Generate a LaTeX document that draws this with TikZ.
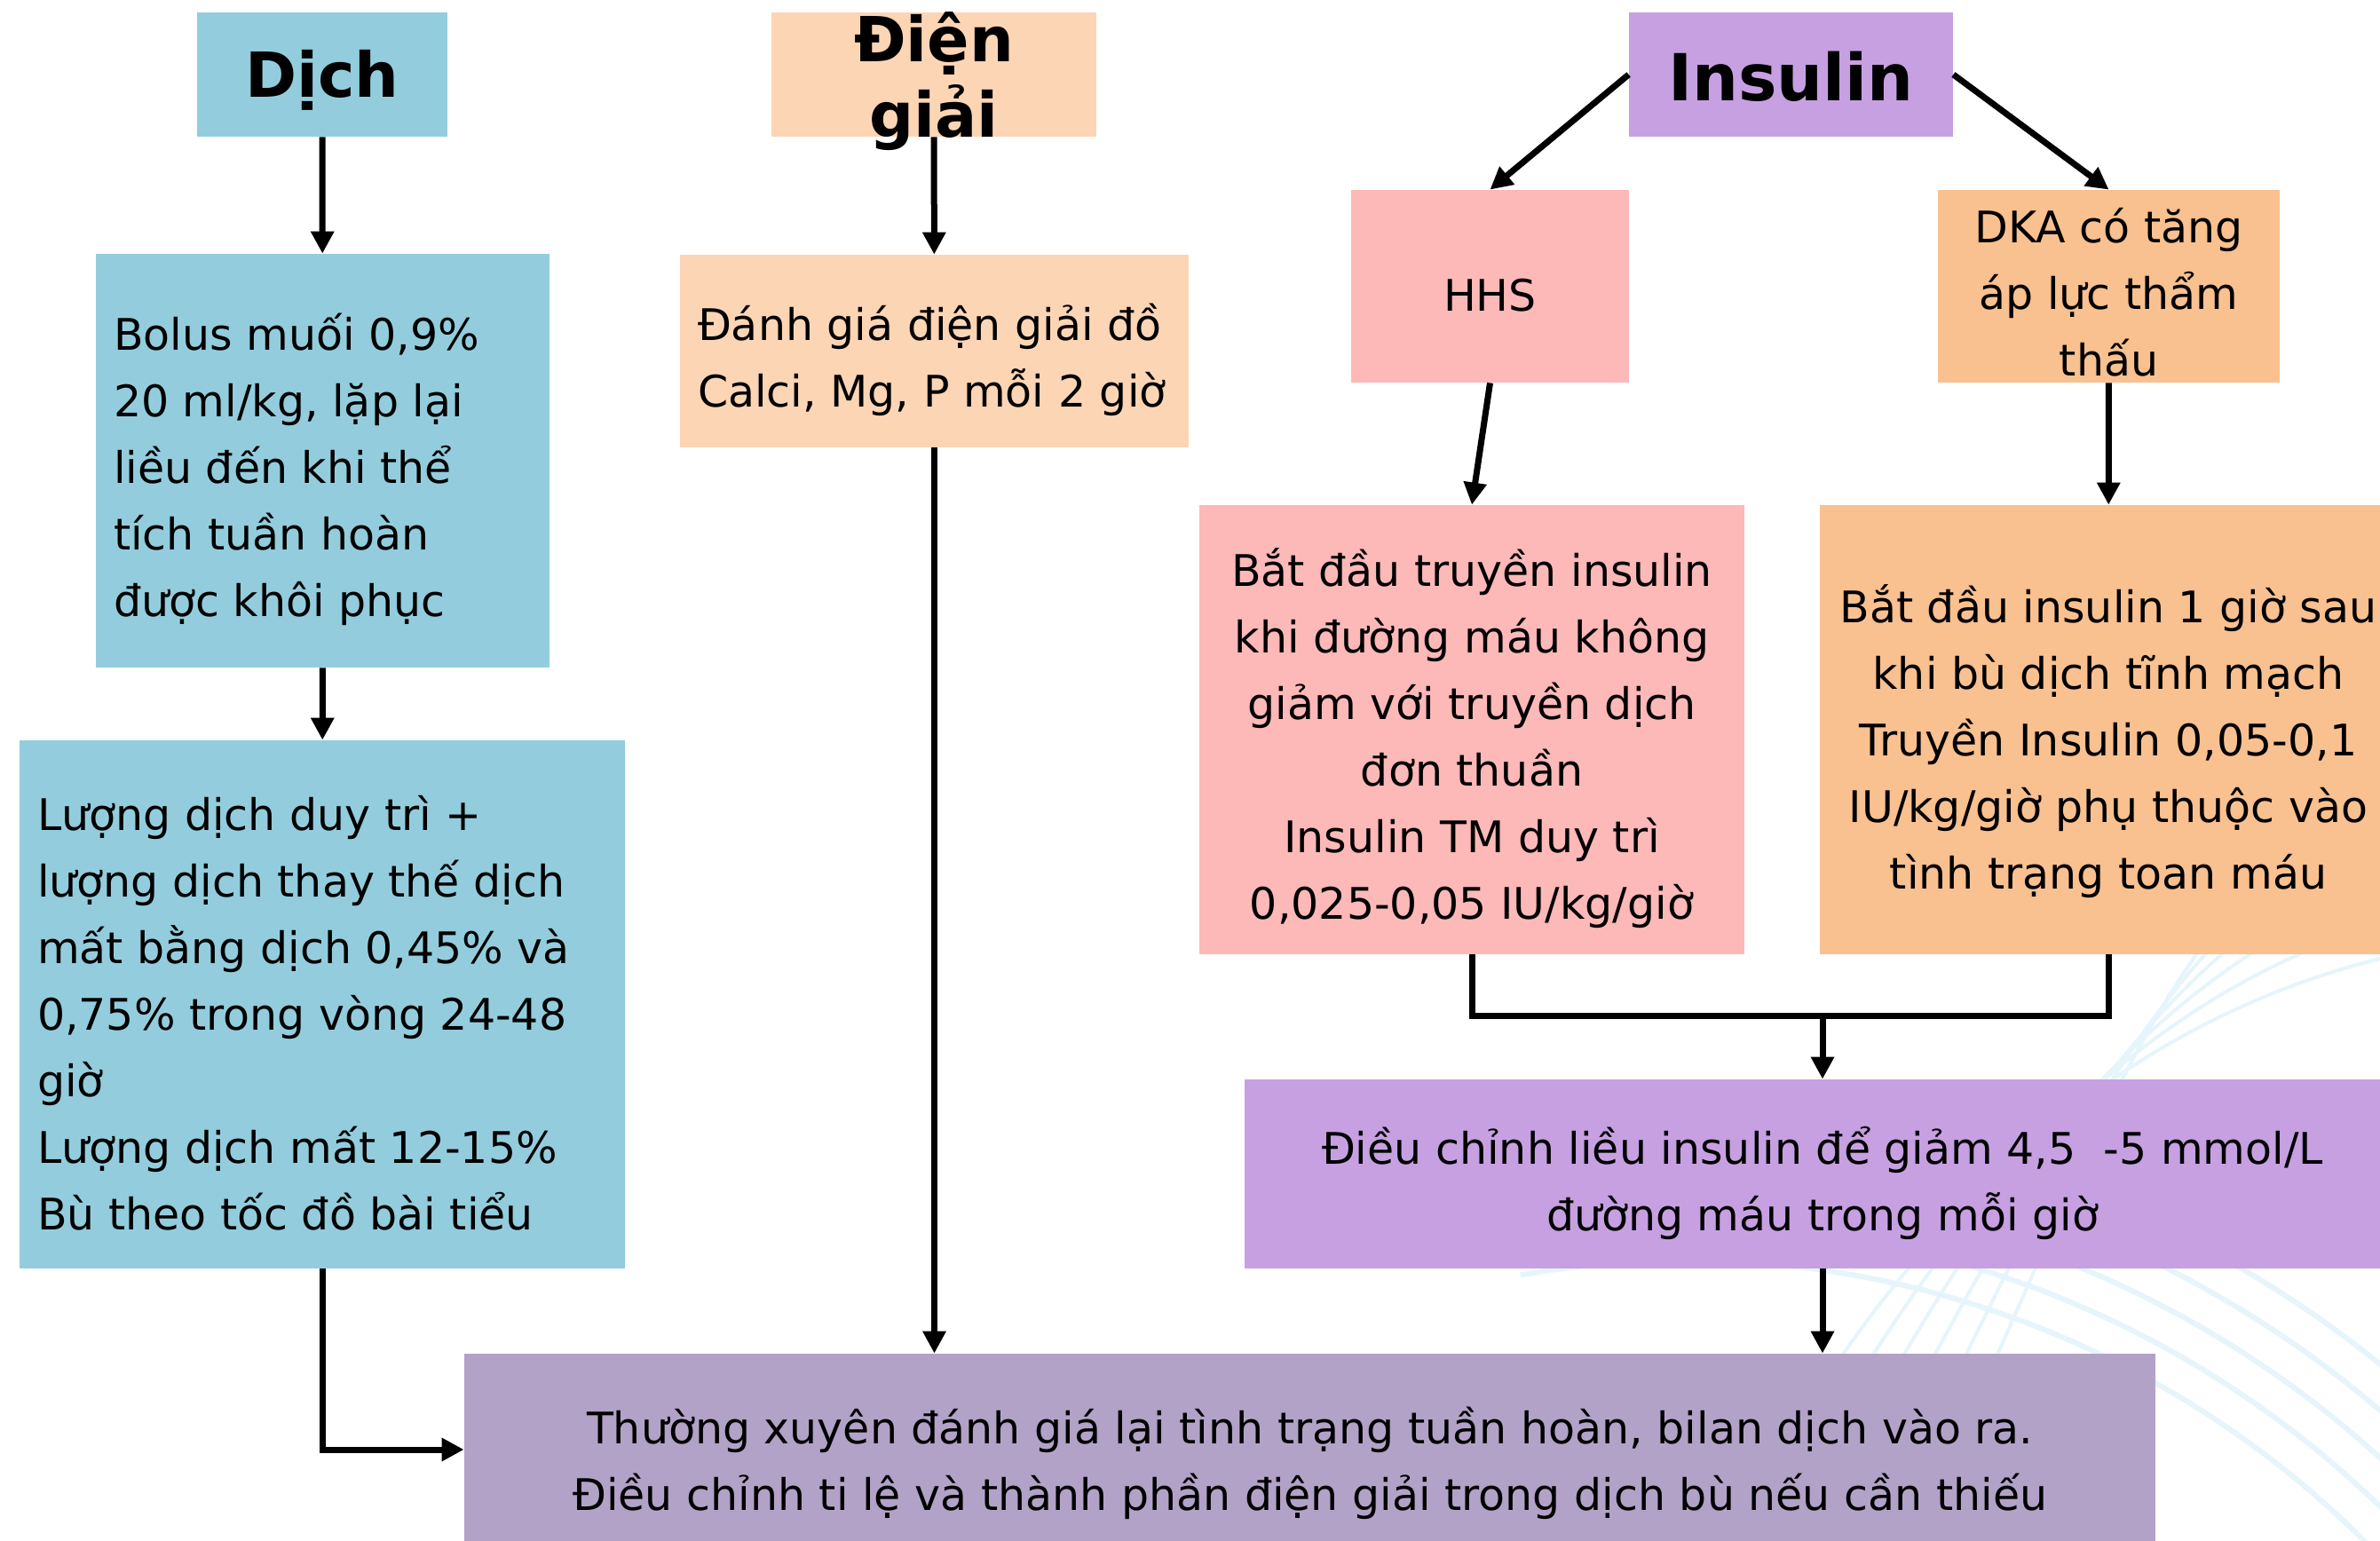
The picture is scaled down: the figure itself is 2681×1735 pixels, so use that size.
\documentclass[tikz,border=0pt]{standalone}
\usepackage{fontspec}
\setmainfont{DejaVu Sans}
\usetikzlibrary{arrows.meta}
\definecolor{cBlue}{HTML}{93CDDD}
\definecolor{cPeach}{HTML}{FCD5B5}
\definecolor{cLilac}{HTML}{C7A0E2}
\definecolor{cPink}{HTML}{FDB8B8}
\definecolor{cOrange}{HTML}{F9C090}
\definecolor{cMauve}{HTML}{B3A2C7}
\definecolor{cSwirl}{HTML}{E6F5FB}
\begin{document}
\begin{tikzpicture}[x=0.5pt,y=-0.5pt,
  box/.style={rectangle, inner sep=0pt, anchor=center},
  body/.style={font=\fontsize{24.5pt}{37.5pt}\selectfont, inner sep=0pt},
  ctext/.style={body, align=center, yshift=-5pt},
  ltext/.style={body, align=left, anchor=west, yshift=-5pt},
  title/.style={font=\bfseries\fontsize{35pt}{42.5pt}\selectfont, inner sep=0pt, align=center},
  conn/.style={line width=3.5pt, draw=black},
  arr/.style={conn, -{Triangle[length=12.5pt,width=12.5pt]}},
  swirl/.style={draw=cSwirl, line width=3pt}]
\useasboundingbox (0,0) rectangle (2681,1735);
\clip (0,0) rectangle (2681,1735);
\fill[white] (0,0) rectangle (2681,1735);
% faint background swirls
\foreach \r in {1080,1120,1160,1200,1240}
  \draw[swirl] (1900,2500) ++(-100:\r) arc[start angle=-100, end angle=-25, radius=\r];
\foreach \k in {0,1,2,3,4,5}
  \draw[swirl, line width=2pt] (1950+40*\k,1735) .. controls (2150+40*\k,1350) and (2400,1150-20*\k) .. (2681,1080-40*\k);
% top row
\node[box, fill=cBlue, minimum width=141pt, minimum height=70pt] (dich) at (363,84) {};
\node[title, yshift=-3pt] (dichT) at (dich) {Dịch};
\node[box, fill=cPeach, minimum width=183pt, minimum height=70pt] (dg) at (1052,84) {};
\node[title] (dgT) at (1052,92) {Điện\\giải};
\node[box, fill=cLilac, minimum width=182.5pt, minimum height=70pt] (ins) at (2017.5,84) {};
\node[title, font=\bfseries\fontsize{36.5pt}{42.5pt}\selectfont, yshift=-1pt] (insT) at (ins) {Insulin};
% left column
\node[box, fill=cBlue, minimum width=255.5pt, minimum height=233pt] (bolus) at (363.5,519) {};
\node[ltext] (bolusT) at ([xshift=10pt]bolus.west)
  {Bolus muối 0,9\%\\20 ml/kg, lặp lại\\liều đến khi thể\\tích tuần hoàn\\được khôi phục};
\node[box, fill=cBlue, minimum width=341pt, minimum height=297.5pt] (ld) at (363,1131.5) {};
\node[ltext] (ldT) at ([xshift=10pt]ld.west)
  {Lượng dịch duy trì +\\lượng dịch thay thế dịch\\mất bằng dịch 0,45\% và\\0,75\% trong vòng 24-48\\giờ\\Lượng dịch mất 12-15\%\\Bù theo tốc đồ bài tiểu};
% middle column
\node[box, fill=cPeach, minimum width=286.5pt, minimum height=108.5pt] (danhgia) at (1052.5,395.5) {};
\node[ltext] (danhgiaT) at ([xshift=10pt]danhgia.west)
  {Đánh giá điện giải đồ\\Calci, Mg, P mỗi 2 giờ};
% insulin branch
\node[box, fill=cPink, minimum width=156.5pt, minimum height=108.5pt] (hhs) at (1678.5,322.5) {};
\node[ctext] (hhsT) at (hhs) {HHS};
\node[box, fill=cOrange, minimum width=192.5pt, minimum height=108.5pt] (dka) at (2375.5,322.5) {};
\node[ctext, yshift=1.5pt] (dkaT) at (dka) {DKA có tăng\\áp lực thẩm\\thấu};
\node[box, fill=cPink, minimum width=307pt, minimum height=253pt] (bdt) at (1658,822) {};
\node[ctext] (bdtT) at (bdt)
  {Bắt đầu truyền insulin\\khi đường máu không\\giảm với truyền dịch\\đơn thuần\\Insulin TM duy trì\\0,025-0,05 IU/kg/giờ};
\node[box, fill=cOrange, minimum width=325pt, minimum height=253pt] (bdi) at (2375,822) {};
\node[ctext, yshift=-1.5pt] (bdiT) at (bdi)
  {Bắt đầu insulin 1 giờ sau\\khi bù dịch tĩnh mạch\\Truyền Insulin 0,05-0,1\\IU/kg/giờ phụ thuộc vào\\tình trạng toan máu};
\node[box, fill=cLilac, minimum width=651pt, minimum height=106.5pt] (dc) at (2053,1322.5) {};
\node[ctext] (dcT) at (dc)
  {Điều chỉnh liều insulin để giảm 4,5\ \ -5 mmol/L\\đường máu trong mỗi giờ};
% bottom
\node[box, fill=cMauve, minimum width=952.5pt, minimum height=108pt] (tx) at (1475.5,1633) {};
\node[ctext, yshift=-2.5pt] (txT) at (tx)
  {Thường xuyên đánh giá lại tình trạng tuần hoàn, bilan dịch vào ra.\\Điều chỉnh ti lệ và thành phần điện giải trong dịch bù nếu cần thiếu};
% connectors
\draw[arr] (dich) -- (bolus);
\draw[arr] (bolus) -- (ld);
\draw[arr] (dg) -- (danhgia);
\draw[arr] (danhgia) -- (danhgia |- tx.north);
\draw[arr] (ins.west) -- (hhs.north);
\draw[arr] (ins.east) -- (dka.north);
\draw[arr] (hhs.south) -- (bdt.north);
\draw[arr] (dka) -- (bdi);
\coordinate (jn) at (2053,1144);
\draw[conn] (bdt.south) |- (jn) -| (bdi.south);
\draw[arr] (jn) -- (dc.north);
\draw[arr] (dc) -- (dc |- tx.north);
\draw[arr] (ld.south) |- (tx.west);
\end{tikzpicture}
\end{document}
